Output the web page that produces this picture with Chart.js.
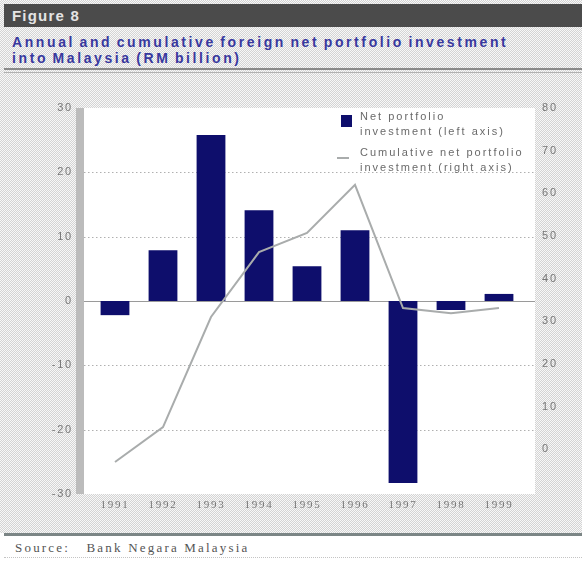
<!DOCTYPE html>
<html>
<head>
<meta charset="utf-8">
<script src="https://cdn.jsdelivr.net/npm/chart.js@4.4.1/dist/chart.umd.min.js"></script>
<style>
  html, body { margin: 0; padding: 0; }
  body { width: 582px; height: 561px; position: relative; overflow: hidden; background: #fff; font-family: Arial, "Liberation Sans", sans-serif; }
  #panel { position: absolute; left: 0; top: 0; width: 582px; height: 533px;
    background: repeating-conic-gradient(#d4d4d4 0% 25%, #f8f8f8 0% 50%) 0 0 / 2px 2px; }
  #figbar { position: absolute; left: 4px; top: 4px; right: 0; height: 23px; background: #4b4b4b;
    color: #e4e4e4; font: bold 15px Arial, sans-serif; line-height: 23px; padding-left: 8px; letter-spacing: 1.2px; }
  #title { position: absolute; left: 12px; top: 34px; color: #38389e; font: bold 14px Arial, sans-serif;
    line-height: 16px; letter-spacing: 2.6px; word-spacing: -2px; }
  .rule { position: absolute; left: 4px; right: 0; }
  #rule1 { top: 68px; height: 2px; background: #8a8a8a; }
  #rule2 { top: 72px; height: 1px; background: #b0b0b0; }
  #rule3 { top: 533px; height: 3px; background: #7b8585; }
  #source { position: absolute; left: 15px; top: 540px; font: 13px "Liberation Serif", serif; color: #555; letter-spacing: 2.2px; }
  #dots { position: absolute; left: 4px; right: 0; top: 557px; border-top: 1px dotted #c4c4c4; }
  #chart { position: absolute; left: 0; top: 0; }
</style>
</head>
<body>
<div id="panel"></div>
<div id="figbar">Figure 8</div>
<div id="title">Annual and cumulative foreign net portfolio investment<br>into Malaysia (RM billion)</div>
<div class="rule" id="rule1"></div>
<div class="rule" id="rule2"></div>
<div class="rule" id="rule3"></div>
<div id="source">Source:&nbsp;&nbsp; Bank Negara Malaysia</div>
<div id="dots"></div>
<canvas id="chart" width="582" height="561"></canvas>
<script>
// RM billion, per year
const years = ["1991", "1992", "1993", "1994", "1995", "1996", "1997", "1998", "1999"];
const netPortfolio = [-2.2, 7.9, 25.8, 14.1, 5.4, 11.0, -28.3, -1.4, 1.1];
const cumulative = [-3.0, 5.2, 31.0, 46.2, 50.7, 62.0, 33.1, 31.9, 33.1];

const leftTicks = [30, 20, 10, 0, -10, -20, -30];
const rightTicks = [80, 70, 60, 50, 40, 30, 20, 10, 0];

const BAR_COL = "#0e0e6c";
const LINE_COL = "#a9acac";
const LABEL_COL = "#777";

// white plot panel, axis wall and horizontal rules
const panelPlugin = {
  id: "panel",
  beforeDraw(chart) {
    const { ctx, chartArea } = chart;
    const y = chart.scales.y;
    const x0 = chartArea.left - 7, x1 = chartArea.right + 12;
    ctx.letterSpacing = "1.8px"; // spaced-out tick labels
    ctx.save();
    ctx.fillStyle = "#fff";
    ctx.fillRect(x0, chartArea.top, x1 - x0, chartArea.bottom - chartArea.top);
    ctx.fillStyle = "#bcbcbc";
    ctx.fillRect(x0 - 8, chartArea.top, 8, chartArea.bottom - chartArea.top);
    leftTicks.forEach((v) => {
      if (v === 30 || v === -30) return;
      const py = Math.round(y.getPixelForValue(v)) + 0.5;
      ctx.beginPath();
      ctx.strokeStyle = v === 0 ? "#9a9a9a" : "#b0b0b0";
      ctx.lineWidth = 1;
      ctx.setLineDash(v === 0 ? [] : [1.5, 2.5]);
      ctx.moveTo(x0, py);
      ctx.lineTo(x1, py);
      ctx.stroke();
    });
    ctx.restore();
  },
};

// two-line legend entries
const legendPlugin = {
  id: "twoLineLegend",
  afterDraw(chart) {
    const { ctx } = chart;
    ctx.save();
    ctx.font = "11px Arial, sans-serif";
    ctx.letterSpacing = "2px";
    ctx.textBaseline = "middle";
    ctx.fillStyle = BAR_COL;
    ctx.fillRect(341, 115, 11, 12);
    ctx.fillStyle = "#6a6a6a";
    ctx.fillText("Net portfolio", 360, 117);
    ctx.fillText("investment (left axis)", 360, 132);
    ctx.strokeStyle = LINE_COL;
    ctx.lineWidth = 2;
    ctx.beginPath();
    ctx.moveTo(337, 158);
    ctx.lineTo(349, 158);
    ctx.stroke();
    ctx.fillText("Cumulative net portfolio", 360, 153);
    ctx.fillText("investment (right axis)", 360, 168);
    ctx.restore();
  },
};

const chart = new Chart("chart", {
  type: "bar",
  data: {
    labels: years,
    datasets: [
      {
        type: "line",
        label: "Cumulative net portfolio investment (right axis)",
        data: cumulative,
        yAxisID: "y1",
        borderColor: LINE_COL,
        borderWidth: 2,
        pointRadius: 0,
        tension: 0,
        fill: false,
        order: 0,
      },
      {
        label: "Net portfolio investment (left axis)",
        data: netPortfolio,
        yAxisID: "y",
        backgroundColor: BAR_COL,
        categoryPercentage: 1,
        barPercentage: 0.6,
        order: 1,
      },
    ],
  },
  options: {
    responsive: false,
    animation: false,
    layout: { padding: { top: 108, bottom: 37, left: 0, right: 0 } },
    plugins: { legend: { display: false }, tooltip: { enabled: false } },
    scales: {
      x: {
        grid: { display: false, drawTicks: false },
        border: { display: false },
        ticks: { color: LABEL_COL, font: { family: "Liberation Serif", size: 11 }, padding: 5, maxRotation: 0 },
        afterFit(s) { s.height = 30; },
      },
      y: {
        position: "left",
        min: -30,
        max: 30,
        afterBuildTicks(s) { s.ticks = leftTicks.map((v) => ({ value: v })); },
        grid: { display: false, drawTicks: false },
        border: { display: false },
        ticks: { color: LABEL_COL, font: { family: "Arial", size: 11 }, padding: 18 },
        afterFit(s) { s.width = 91; },
      },
      y1: {
        position: "right",
        min: -10.5,
        max: 80,
        afterBuildTicks(s) { s.ticks = rightTicks.map((v) => ({ value: v })); },
        grid: { display: false, drawTicks: false },
        border: { display: false },
        ticks: { color: LABEL_COL, font: { family: "Arial", size: 11 }, padding: 19 },
        afterFit(s) { s.width = 59; },
      },
    },
  },
  plugins: [panelPlugin, legendPlugin],
});
</script>
</body>
</html>
